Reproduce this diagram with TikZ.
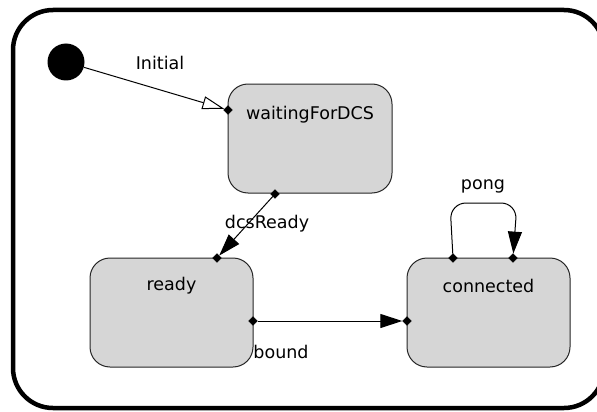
\documentclass[tikz,border=0pt]{standalone}
\usepackage{fontspec}
\setmainfont{DejaVu Sans}
\usetikzlibrary{arrows.meta,shapes.geometric}
\definecolor{stategray}{HTML}{D6D6D6}
\tikzset{
  statebox/.style={draw=black!85, line width=1pt, fill=stategray, rounded corners=20pt,
    minimum width=163pt, minimum height=109pt, inner sep=0pt},
  port/.style={diamond, fill=black, draw=black, inner sep=0pt, minimum size=9pt},
  conn/.style={draw=black, line width=1pt},
  lbl/.style={font=\fontsize{17.5}{20}\selectfont, text=black, inner sep=0pt},
  filledtip/.style={-{Triangle[length=22pt,width=14pt]}},
  opentip/.style={-{Triangle[open,length=22pt,width=13pt,fill=white]}}
}
\begin{document}
\begin{tikzpicture}[x=1pt,y=-1pt]
\useasboundingbox (0,0) rectangle (597,412);
\begin{scope}
\clip (0,0) rectangle (597,412);
\draw[line width=4.5pt, rounded corners=40pt] (13,10) rectangle (604,408);
\end{scope}

% initial pseudo-state
\node[circle, fill=black, minimum size=37pt, inner sep=0pt] (init) at (66,62) {};

% states
\node[statebox, minimum width=164pt, label={[lbl, anchor=center, yshift=-31pt]north:waitingForDCS}] (wait) at (310,138.5) {};
\node[statebox, label={[lbl, anchor=center, yshift=-28pt]north:ready}] (ready) at (171.5,312.5) {};
\node[statebox, label={[lbl, anchor=center, yshift=-28pt]north:connected}] (conn) at (488.5,312.5) {};

% ports
\node[port] (p1) at (228,110) {};
\node[port] (p2) at (275,194) {};
\node[port] (p3) at (217,258) {};
\node[port] (p4) at (253,321) {};
\node[port] (p5) at (407,321) {};
\node[port] (p6) at (453,258) {};
\node[port] (p7) at (513,258) {};

% loop corners
\coordinate (l1) at (450,203);
\coordinate (l2) at (517,203);

% transitions
\draw[conn, opentip] (init) -- (p1);
\draw[conn, filledtip] (p2) -- (p3);
\draw[conn, filledtip] (p4) -- (p5);
\draw[conn, filledtip, rounded corners=16pt] (p6) -- (l1) -- (l2) -- (p7);

% labels
\node[lbl] (tInit) at (160,63) {Initial};
\node[lbl] (tDcs) at (267,224) {dcsReady};
\node[lbl] (tBound) at (281,352) {bound};
\node[lbl] (tPong) at (483,186) {pong};
\end{tikzpicture}
\end{document}
